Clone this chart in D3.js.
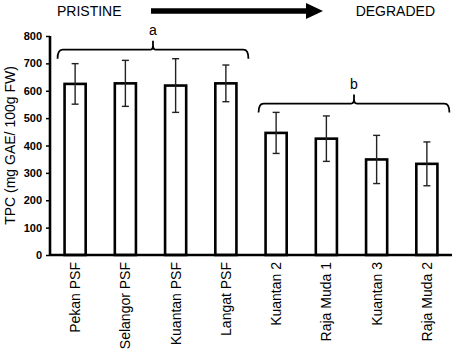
<!DOCTYPE html>
<html>
<head>
<meta charset="utf-8">
<script src="https://cdn.jsdelivr.net/npm/d3@7"></script>
<style>
body { margin: 0; background: #fff; }
svg text { font-family: "Liberation Sans", Arial, sans-serif; }
</style>
</head>
<body>
<svg class="tpc-chart" width="454" height="350"></svg>
<script>
// sites ordered pristine -> degraded
var sites = ["Pekan PSF", "Selangor PSF", "Kuantan PSF", "Langat PSF",
             "Kuantan 2", "Raja Muda 1", "Kuantan 3", "Raja Muda 2"];
var tpc = [625, 627, 619, 627, 446, 425, 349, 333];
var sd = [74, 84, 98, 67, 75, 83, 88, 80];
var yTicks = [0, 100, 200, 300, 400, 500, 600, 700, 800];

// groups of significance letters
var groupLetters = ["a", "b"];
var groupFirst = [0, 4];
var groupLast = [3, 7];
var groupLevel = [750, 553];

var svg = d3.select("svg.tpc-chart");
var margin = {top: 36, right: 2, bottom: 95, left: 50},
    width = +svg.attr("width") - margin.left - margin.right,
    height = +svg.attr("height") - margin.top - margin.bottom;

var x = d3.scaleBand().domain(sites).range([0, width])
    .paddingInner(0.58).paddingOuter(0.29);
var y = d3.scaleLinear().domain([0, 800]).range([height, 0]);

var g = svg.append("g").attr("transform", "translate(" + margin.left + "," + margin.top + ")");

// bars
g.selectAll(".bar")
    .data(sites)
    .enter().append("rect")
    .attr("class", "bar")
    .attr("x", function(d) { return x(d); })
    .attr("y", function(d, i) { return y(tpc[i]); })
    .attr("width", x.bandwidth())
    .attr("height", function(d, i) { return height - y(tpc[i]); })
    .attr("fill", "#fff")
    .attr("stroke", "#000")
    .attr("stroke-width", 2.6);

// error bars
var err = g.selectAll(".err")
    .data(sites)
    .enter().append("g")
    .attr("class", "err")
    .attr("stroke", "#222")
    .attr("stroke-width", 1.4);
err.append("line")
    .attr("x1", function(d) { return x(d) + x.bandwidth() / 2; })
    .attr("x2", function(d) { return x(d) + x.bandwidth() / 2; })
    .attr("y1", function(d, i) { return y(tpc[i] + sd[i]); })
    .attr("y2", function(d, i) { return y(tpc[i] - sd[i]); });
[1, -1].forEach(function(s) {
    err.append("line")
        .attr("x1", function(d) { return x(d) + x.bandwidth() / 2 - 3.5; })
        .attr("x2", function(d) { return x(d) + x.bandwidth() / 2 + 3.5; })
        .attr("y1", function(d, i) { return y(tpc[i] + s * sd[i]); })
        .attr("y2", function(d, i) { return y(tpc[i] + s * sd[i]); });
});

// y axis
var yAxis = g.append("g")
    .attr("class", "axis axis--y")
    .call(d3.axisLeft(y).tickValues(yTicks).tickSize(4).tickPadding(4));
yAxis.select(".domain").attr("stroke-width", 2.6).attr("d", "M0," + height + "V0");
yAxis.selectAll(".tick line").attr("stroke-width", 1.5);
yAxis.selectAll("text")
    .style("font-family", "'Liberation Sans', Arial, sans-serif")
    .style("font-weight", "bold")
    .style("font-size", "11px")
    .attr("fill", "#000");

// x axis (no ticks)
var xAxis = g.append("g")
    .attr("class", "axis axis--x")
    .attr("transform", "translate(0," + height + ")")
    .call(d3.axisBottom(x).tickSize(0).tickPadding(0));
xAxis.select(".domain").attr("stroke-width", 2.6).attr("d", "M0,0H" + width);
xAxis.selectAll("text")
    .style("font-family", "'Liberation Sans', Arial, sans-serif")
    .style("font-size", "14px")
    .attr("fill", "#000")
    .attr("transform", "rotate(-90)")
    .attr("x", -7)
    .attr("y", 0)
    .attr("dy", "0.35em")
    .style("text-anchor", "end");

// braces over groups
groupLetters.forEach(function(letter, k) {
    var x0 = x(sites[groupFirst[k]]) - 7,
        x1 = x(sites[groupLast[k]]) + x.bandwidth() + 12,
        xm = (x0 + x1) / 2,
        yb = y(groupLevel[k]);
    var p = "M" + x0 + "," + (yb + 9) +
        "Q" + x0 + "," + yb + " " + (x0 + 5) + "," + yb +
        "L" + (xm - 3) + "," + yb +
        "Q" + xm + "," + yb + " " + xm + "," + (yb - 4) +
        "L" + xm + "," + (yb - 9) +
        "M" + xm + "," + (yb - 4) +
        "Q" + xm + "," + yb + " " + (xm + 3) + "," + yb +
        "L" + (x1 - 5) + "," + yb +
        "Q" + x1 + "," + yb + " " + x1 + "," + (yb + 9);
    g.append("path")
        .attr("d", p)
        .attr("fill", "none")
        .attr("stroke", "#000")
        .attr("stroke-width", 1.8);
    g.append("text")
        .attr("x", xm)
        .attr("y", yb - 15)
        .attr("text-anchor", "middle")
        .style("font-size", "14px")
        .text(letter);
});

// y label
svg.append("text")
    .attr("transform", "rotate(-90)")
    .attr("x", -(margin.top + height / 2) + 0)
    .attr("y", 15)
    .attr("text-anchor", "middle")
    .style("font-size", "14px")
    .text("TPC (mg GAE/ 100g FW)");

// pristine -> degraded arrow on top
svg.append("text")
    .attr("x", 57).attr("y", 16)
    .style("font-size", "14px")
    .text("PRISTINE");
svg.append("text")
    .attr("x", 435).attr("y", 16)
    .attr("text-anchor", "end")
    .style("font-size", "14px")
    .text("DEGRADED");
svg.append("line")
    .attr("x1", 151).attr("x2", 308)
    .attr("y1", 11).attr("y2", 11)
    .attr("stroke", "#000")
    .attr("stroke-width", 5.5);
svg.append("path")
    .attr("d", "M306,3L323,11L306,19Z")
    .attr("fill", "#000");
</script>
</body>
</html>
